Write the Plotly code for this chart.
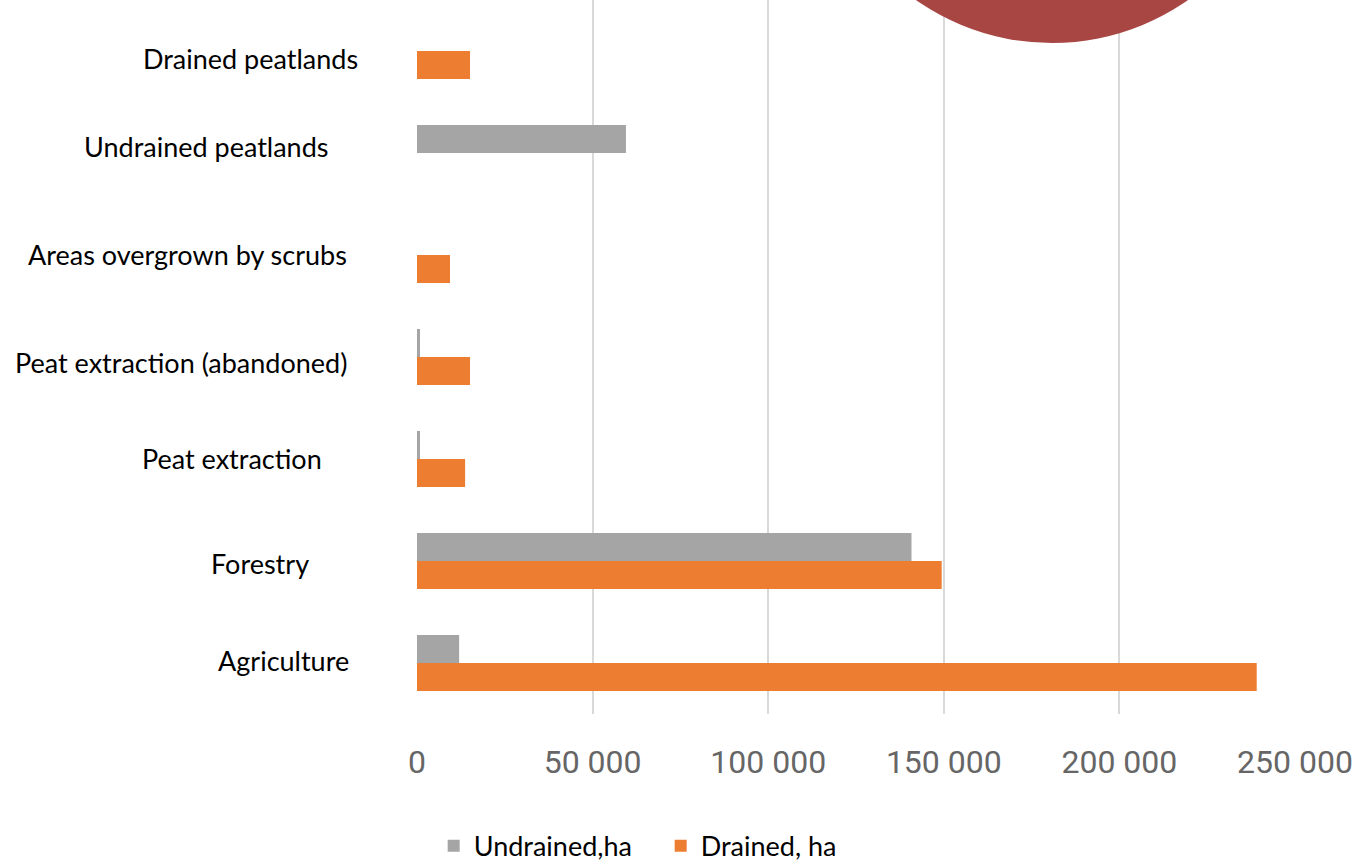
import plotly.graph_objects as go

categories = ["Agriculture", "Forestry", "Peat extraction", "Peat extraction (abandoned)",
              "Areas overgrown by scrubs", "Undrained peatlands", "Drained peatlands"]
undrained_ha = [12000, 140800, 850, 850, 0, 59500, 0]
drained_ha = [239100, 149400, 13700, 15100, 9400, 0, 15100]
x_tickvals = [0, 50000, 100000, 150000, 200000, 250000]

# label placement (style): right edge offset from the zero line in px, vertical shift in px
label_xshift = [-66, -106, -93, -68, -68, -86, -57]
label_yshift = [3, -2, 1, -5, 1, 7, -7]

GRAY = "#A5A5A5"
ORANGE = "#ED7D31"
FONT = "Lato"

fig = go.Figure()
fig.add_trace(go.Bar(y=categories, x=drained_ha, orientation="h", name="Drained, ha",
                     marker=dict(color=ORANGE, line=dict(width=0))))
fig.add_trace(go.Bar(y=categories, x=undrained_ha, orientation="h", name="Undrained,ha",
                     marker=dict(color=GRAY, line=dict(width=0))))

annotations = []
for c, dx, dy in zip(categories, label_xshift, label_yshift):
    annotations.append(dict(x=0, y=c, xref="x", yref="y", text=c, showarrow=False,
                            xanchor="right", yanchor="middle", xshift=dx, yshift=dy,
                            font=dict(family=FONT, size=27, color="#000000")))

fig.update_layout(
    width=1364, height=865,
    margin=dict(l=417, r=69, t=0, b=151, autoexpand=False),
    paper_bgcolor="white", plot_bgcolor="white",
    barmode="group", bargap=0.45, bargroupgap=0,
    separators=". ",
    showlegend=True,
    legend=dict(orientation="h", x=0.019, xanchor="left", y=-0.185, yanchor="middle",
                traceorder="reversed", font=dict(family=FONT, size=27, color="#000000"),
                itemwidth=30, entrywidth=182),
    annotations=annotations,
    shapes=[dict(type="circle", xref="paper", yref="paper",
                 x0=(815 - 417) / 878, x1=(1289 - 417) / 878,
                 y0=(714 - 43) / 714, y1=(714 + 431) / 714,
                 fillcolor="#A84644", line=dict(width=0), layer="above")],
)
fig.update_xaxes(range=[0, 250000], tickvals=x_tickvals, tickformat=",d",
                 showgrid=True, gridcolor="#D9D9D9", gridwidth=2, zeroline=False,
                 showline=False, ticks="", ticklabelstandoff=26,
                 tickfont=dict(family="Roboto", size=32, color="#666666"))
fig.update_yaxes(showticklabels=False, showgrid=False, zeroline=False, showline=False,
                 categoryorder="array", categoryarray=categories)

fig.write_html("out.html")
